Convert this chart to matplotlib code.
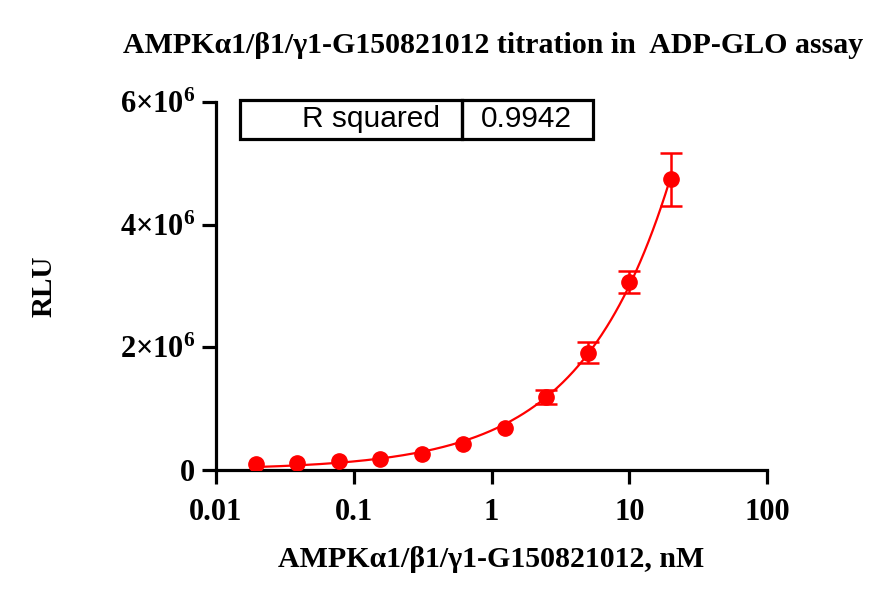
import matplotlib
matplotlib.use("Agg")
import matplotlib.pyplot as plt
import numpy as np
from matplotlib.patches import Rectangle

# data
conc = [0.0195, 0.039, 0.078, 0.156, 0.3125, 0.625, 1.25, 2.5, 5, 10, 20]
rlu = [0.09e6, 0.11e6, 0.14e6, 0.18e6, 0.26e6, 0.42e6, 0.69e6, 1.19e6, 1.91e6, 3.07e6, 4.74e6]
# SD; bars shorter than the symbol are hidden in the original (0 here)
rlu_err = [0, 0, 0, 0, 0, 0, 0, 0.12e6, 0.17e6, 0.18e6, 0.43e6]
x_ticks = [0.01, 0.1, 1, 10, 100]
x_ticklabels = ["0.01", "0.1", "1", "10", "100"]
y_ticks = [0, 2e6, 4e6, 6e6]
y_ticklabels = ["0", r"$\mathbf{2{\times}10^{6}}$", r"$\mathbf{4{\times}10^{6}}$", r"$\mathbf{6{\times}10^{6}}$"]
r_squared = "0.9942"

plt.rcParams['mathtext.fontset'] = 'custom'
plt.rcParams['mathtext.rm'] = 'Liberation Serif'
plt.rcParams['mathtext.bf'] = 'Liberation Serif:bold'

x = np.array(conc)
y = np.array(rlu)
e = np.array(rlu_err)

# fit y = c + a * x^n (least squares over a grid of n)
best = None
for n in np.linspace(0.3, 1.5, 241):
    A = np.column_stack([np.ones_like(x), x ** n])
    coef, res, _, _ = np.linalg.lstsq(A, y, rcond=None)
    err = np.sum((A @ coef - y) ** 2)
    if best is None or err < best[0]:
        best = (err, n, coef)
_, n_fit, (c_fit, a_fit) = best
xs = np.logspace(np.log10(x.min()), np.log10(x.max()), 300)
ys = c_fit + a_fit * xs ** n_fit

fig = plt.figure(figsize=(8.93, 6.01), dpi=100)
ax = fig.add_axes([0.2419, 0.2180, 0.6170, 0.6123])

ax.plot(xs, ys, color='#ff0000', lw=1.6, zorder=2)
show = e > 0
ax.errorbar(x[show], y[show], yerr=e[show], fmt='none', ecolor='#ff0000',
            capsize=8, elinewidth=1.8, capthick=1.8, zorder=3)
ax.plot(x, y, 'o', color='#ff0000', ms=11, zorder=4)

ax.set_xscale('log')
ax.set_xlim(0.01, 100)
ax.set_ylim(0, 6e6)
ax.set_xticks(x_ticks)
ax.set_xticklabels(x_ticklabels, fontfamily='Liberation Serif',
                   fontweight='bold', fontsize=22)
ax.minorticks_off()
ax.set_yticks(y_ticks)
ax.set_yticklabels(y_ticklabels, fontfamily='Liberation Serif',
                   fontweight='bold', fontsize=22)

for s in ['top', 'right']:
    ax.spines[s].set_visible(False)
for s in ['left', 'bottom']:
    ax.spines[s].set_linewidth(2.3)
ax.tick_params(direction='out', length=10, width=2.3)
ax.tick_params(axis='x', pad=10)
ax.tick_params(axis='y', pad=5)

ax.set_title("AMPKα1/β1/γ1-G150821012 titration in  ADP-GLO assay",
             fontfamily='Liberation Serif', fontweight='bold', fontsize=21.5,
             x=0.502, y=1.0, pad=35)
ax.set_xlabel("AMPKα1/β1/γ1-G150821012, nM", fontfamily='Liberation Serif',
              fontweight='bold', fontsize=21.5, labelpad=14)
ax.set_ylabel("RLU", fontfamily='Liberation Serif', fontweight='bold',
              fontsize=21, labelpad=45)

# R squared box
for x0, w in [(0.0436, 0.4029), (0.4465, 0.2375)]:
    ax.add_patch(Rectangle((x0, 0.899), w, 0.106, transform=ax.transAxes,
                           fill=False, lw=2.3, ec='black', clip_on=False))
ax.text(0.4065, 0.954, "R squared", transform=ax.transAxes, ha='right',
        va='center', fontfamily='Liberation Sans', fontsize=21.5)
ax.text(0.5635, 0.954, r_squared, transform=ax.transAxes, ha='center',
        va='center', fontfamily='Liberation Sans', fontsize=21.5)

fig.savefig("out.png", dpi=100)
